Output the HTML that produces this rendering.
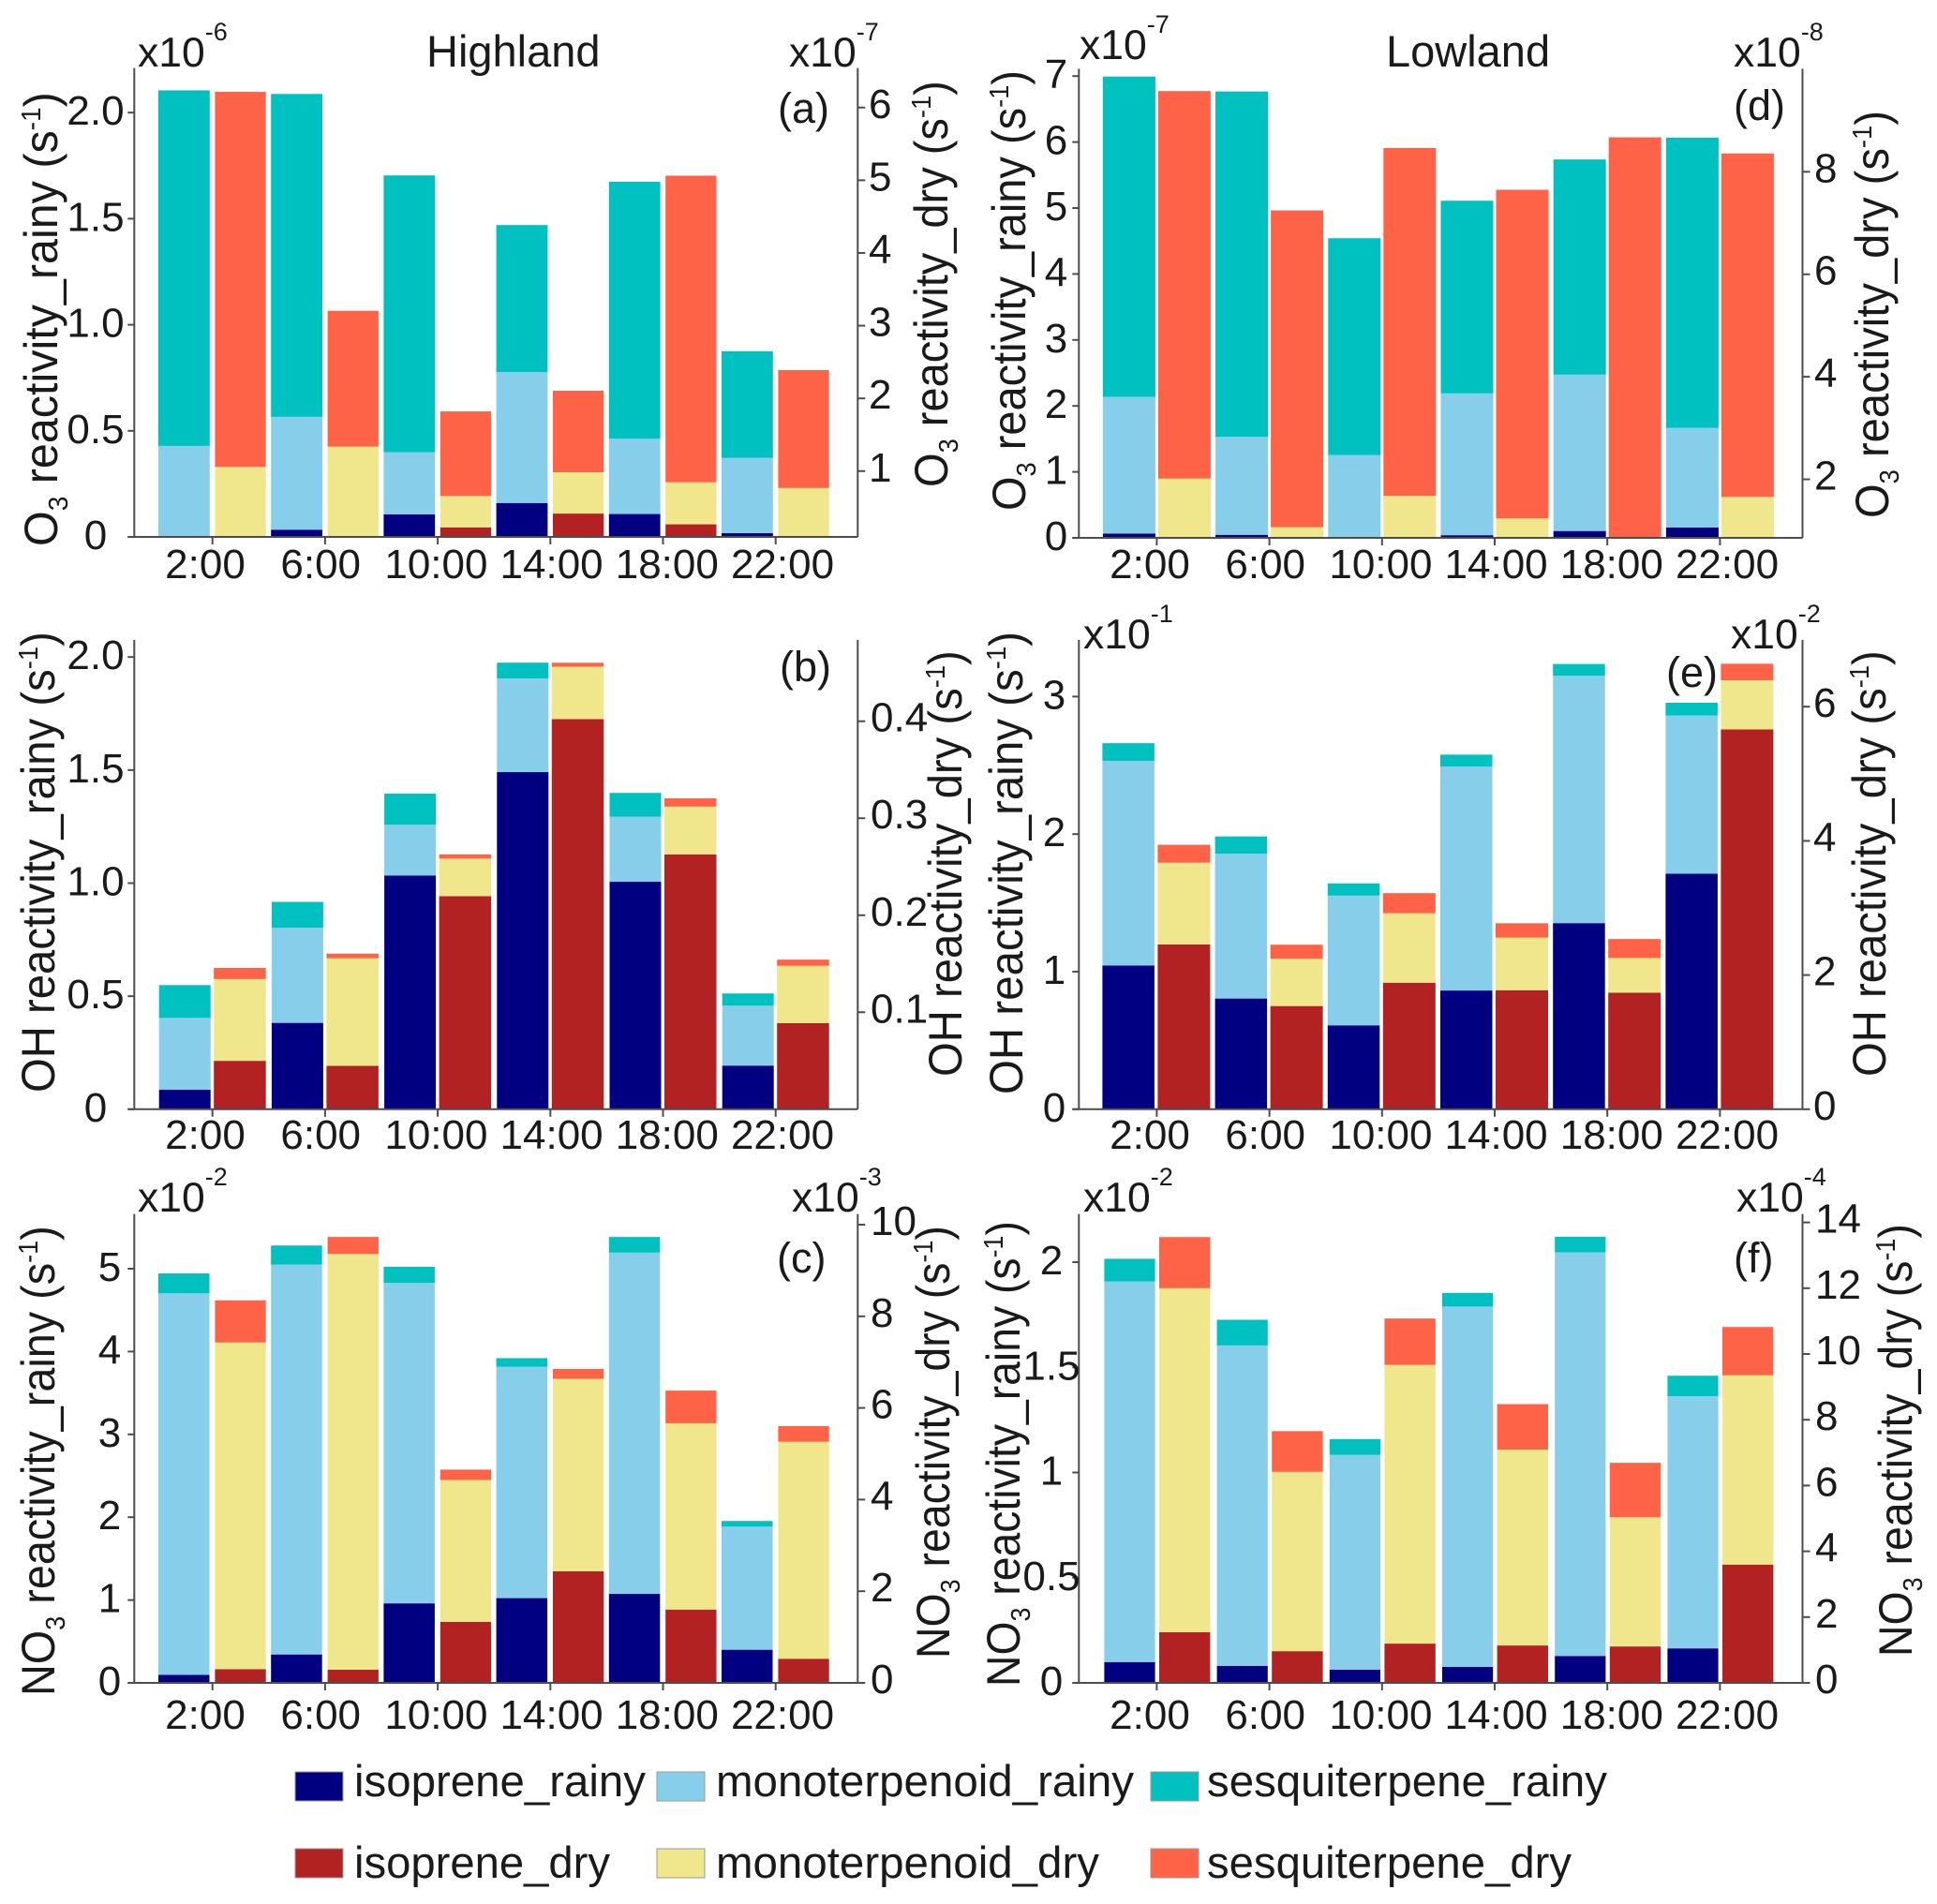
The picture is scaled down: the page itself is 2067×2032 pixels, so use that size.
<!DOCTYPE html>
<html lang="en">
<head>
<meta charset="utf-8">
<title>Reactivity by hour: Highland and Lowland</title>
<style>
html,body{margin:0;padding:0;background:#fff;}
svg{display:block;}
text{font-family:"Liberation Sans",sans-serif;fill:#1a1a1a;white-space:pre;}
</style>
</head>
<body>
<svg id="figure" xmlns="http://www.w3.org/2000/svg" width="2067" height="2032" viewBox="0 0 2067 2032">
<rect x="0" y="0" width="2067" height="2032" fill="#ffffff"/>
<text x="455" y="71" font-size="47">Highland</text>
<text x="1479" y="71" font-size="47">Lowland</text>
</svg>
<script>
// Categories
const hours = ['2:00','6:00','10:00','14:00','18:00','22:00'];

// Panel (a) O3 Highland
const aRainyIso = [0,0.034,0.106,0.16,0.108,0.018];
const aRainyMono = [0.429,0.532,0.293,0.617,0.355,0.355];
const aRainySesq = [1.676,1.522,1.305,0.693,1.211,0.502];
const aDryIso = [0,0,0.131,0.321,0.173,0];
const aDryMono = [0.963,1.242,0.432,0.568,0.579,0.673];
const aDrySesq = [5.158,1.868,1.163,1.121,4.216,1.621];
const aLeftTicks = [0,0.5,1,1.5,2];
const aLeftLabels = ['0','0.5','1.0','1.5','2.0'];
const aRightTicks = [1,2,3,4,5,6];
const aRightLabels = ['1','2','3','4','5','6'];

// Panel (b) OH Highland
const bRainyIso = [0.086,0.382,1.034,1.491,1.006,0.193];
const bRainyMono = [0.318,0.421,0.225,0.414,0.288,0.265];
const bRainySesq = [0.145,0.114,0.137,0.07,0.105,0.054];
const bDryIso = [0.0499,0.0447,0.2196,0.4022,0.2628,0.0887];
const bDryMono = [0.0843,0.1109,0.0388,0.054,0.0492,0.0592];
const bDrySesq = [0.0115,0.0048,0.0044,0.0041,0.0085,0.0063];
const bLeftTicks = [0,0.5,1,1.5,2];
const bLeftLabels = ['0','0.5','1.0','1.5','2.0'];
const bRightTicks = [0.1,0.2,0.3,0.4];
const bRightLabels = ['0.1','0.2','0.3','0.4'];

// Panel (c) NO3 Highland
const cRainyIso = [0.097,0.343,0.96,1.023,1.074,0.4];
const cRainyMono = [4.606,4.708,3.869,2.794,4.12,1.486];
const cRainySesq = [0.24,0.229,0.194,0.103,0.189,0.068];
const cDryIso = [0.299,0.289,1.331,2.435,1.6,0.526];
const cDryMono = [7.131,9.071,3.096,4.201,4.066,4.737];
const cDrySesq = [0.919,0.372,0.227,0.216,0.712,0.341];
const cLeftTicks = [0,1,2,3,4,5];
const cLeftLabels = ['0','1','2','3','4','5'];
const cRightTicks = [0,2,4,6,8,10];
const cRightLabels = ['0','2','4','6','8','10'];

// Panel (d) O3 Lowland
const dRainyIso = [0.064,0.046,0.01,0.04,0.104,0.156];
const dRainyMono = [2.074,1.484,1.247,2.15,2.37,1.513];
const dRainySesq = [4.855,5.237,3.285,2.92,3.262,4.397];
const dDryIso = [0,0,0,0,0,0];
const dDryMono = [1.157,0.209,0.821,0.381,0,0.799];
const dDrySesq = [7.56,6.179,6.784,6.41,7.814,6.701];
const dLeftTicks = [0,1,2,3,4,5,6,7];
const dLeftLabels = ['0','1','2','3','4','5','6','7'];
const dRightTicks = [2,4,6,8];
const dRightLabels = ['2','4','6','8'];

// Panel (e) OH Lowland
const eRainyIso = [1.045,0.805,0.61,0.863,1.353,1.712];
const eRainyMono = [1.488,1.053,0.943,1.629,1.798,1.15];
const eRainySesq = [0.128,0.125,0.089,0.086,0.086,0.093];
const eDryIso = [2.457,1.538,1.886,1.774,1.736,5.662];
const eDryMono = [1.218,0.706,1.036,0.785,0.518,0.732];
const eDrySesq = [0.267,0.208,0.299,0.213,0.283,0.246];
const eLeftTicks = [0,1,2,3];
const eLeftLabels = ['0','1','2','3'];
const eRightTicks = [0,2,4,6];
const eRightLabels = ['0','2','4','6'];

// Panel (f) NO3 Lowland
const fRainyIso = [0.099,0.081,0.063,0.076,0.128,0.164];
const fRainyMono = [1.809,1.523,1.021,1.713,1.919,1.199];
const fRainySesq = [0.108,0.122,0.075,0.065,0.074,0.097];
const fDryIso = [1.54,0.964,1.194,1.137,1.108,3.597];
const fDryMono = [10.46,5.453,8.475,5.957,3.928,5.756];
const fDrySesq = [1.554,1.238,1.41,1.381,1.655,1.467];
const fLeftTicks = [0,0.5,1,1.5,2];
const fLeftLabels = ['0','0.5','1','1.5','2'];
const fRightTicks = [0,2,4,6,8,10,12,14];
const fRightLabels = ['0','2','4','6','8','10','12','14'];

const seriesColors = {rainyIso:'#000080',rainyMono:'#87ceeb',rainySesq:'#00c0c0',dryIso:'#b22222',dryMono:'#f0e68c',drySesq:'#ff6347'};
const AXIS = '#4d4d4d';
const svg = document.getElementById('figure');
const NS = 'http://www.w3.org/2000/svg';

function make(tag, parent, attrs){
  const n = document.createElementNS(NS, tag);
  for (const k in attrs) n.setAttribute(k, attrs[k]);
  parent.appendChild(n);
  return n;
}
function rich(parent, parts, size, subSize, attrs){
  const t = make('text', parent, attrs);
  t.setAttribute('font-size', size);
  let shift = 0;
  parts.forEach(function(p){
    const s = make('tspan', t, {});
    s.textContent = p[0];
    let target = 0;
    if (p[1] === 'sub') target = 11;
    if (p[1] === 'sup') target = -18;
    if (p[1] === 'top') target = -28;
    if (target !== 0) s.setAttribute('font-size', subSize);
    s.setAttribute('dy', target - shift);
    shift = target;
  });
  return t;
}
function line(parent, x1, y1, x2, y2){
  return make('line', parent, {x1:x1,y1:y1,x2:x2,y2:y2,stroke:AXIS,'stroke-width':2});
}

function drawPanel(cfg){
  const g = make('g', svg, {});
  
  

  const tickX = function(i){ return cfg.tick0 + i * 120.2; };
  const yLeft = function(v){ return cfg.base - v * cfg.leftK; };
  const yRight = function(v){ return cfg.base - (v - cfg.rightMin) * cfg.rightK; };

  function stack(values, colors, names, x0, x1, scale, start, season, hour){
    let sum = start;
    values.forEach(function(v, idx){
      const yTop = scale(sum + v);
      const yBot = scale(sum);
      const r = make('rect', g, {x:x0,y:yTop,width:x1 - x0,height:Math.max(0,yBot - yTop),fill:colors[idx]});
      
      
      sum += v;
    });
  }
  hours.forEach(function(h, i){
    const tx = tickX(i);
    const hour = h.replace(':00','h');
    stack([cfg.rainy[0][i],cfg.rainy[1][i],cfg.rainy[2][i]],
      [seriesColors.rainyIso,seriesColors.rainyMono,seriesColors.rainySesq],
      ['isoprene','monoterpenoid','sesquiterpene'], tx + cfg.rb[0], tx + cfg.rb[1], yLeft, 0, 'rainy', hour);
    stack([cfg.dry[0][i],cfg.dry[1][i],cfg.dry[2][i]],
      [seriesColors.dryIso,seriesColors.dryMono,seriesColors.drySesq],
      ['isoprene','monoterpenoid','sesquiterpene'], tx + cfg.db[0], tx + cfg.db[1], yRight, cfg.rightMin, 'dry', hour);
  });

  const xAxis = line(g, cfg.axisL - 7, cfg.base, cfg.axisR, cfg.base);
  
  
  const leftAxis = line(g, cfg.axisL, cfg.top, cfg.axisL, cfg.base);
  
  
  const rightAxis = line(g, cfg.axisR, cfg.top, cfg.axisR, cfg.base);
  
  

  hours.forEach(function(h, i){
    const tk = line(g, tickX(i), cfg.base, tickX(i), cfg.base + 8);
    
    
    const lb = make('text', g, {x:cfg.label0 + i * 123.2,y:cfg.labelY,'font-size':44,'text-anchor':'middle'});
    lb.textContent = h;
    
    
  });
  cfg.leftTicks.forEach(function(v, i){
    const y = yLeft(v);
    const tk = line(g, cfg.axisL - 7, y, cfg.axisL, y);
    
    
    const lb = make('text', g, {x:cfg.leftLabelX,y:y + 13,'font-size':44,'text-anchor':'middle'});
    lb.textContent = cfg.leftLabels[i];
    
    
  });
  cfg.rightTicks.forEach(function(v, i){
    const y = yRight(v);
    const tk = line(g, cfg.axisR, y, cfg.axisR + 8, y);
    
    
    const lb = make('text', g, {x:cfg.rightLabelX,y:y + 11,'font-size':44});
    lb.textContent = cfg.rightLabels[i];
    
    
  });

  function yTitle(species, sub, name, suffix, spec){
    const parts = [[species,0]];
    if (sub) parts.push([sub,'sub']);
    parts.push([' reactivity_' + name + ' (s',0]);
    parts.push(['-1','sup']);
    parts.push([')',0]);
    const t = rich(g, parts, 50, 29, {x:0,y:0});
    const sx = (spec[1] - spec[2]) / t.getComputedTextLength();
    t.setAttribute('transform', 'translate(' + spec[0] + ',' + spec[1] + ') rotate(-90) scale(' + sx + ',1)');
    
    
  }
  yTitle(cfg.species, cfg.sub, 'rainy', 'left', cfg.leftTitle);
  yTitle(cfg.species, cfg.sub, 'dry', 'right', cfg.rightTitle);

  if (cfg.multLeft){
    const m = rich(g, [['x10',0],[cfg.multLeft[2],'top']], 44.5, 27, {x:cfg.multLeft[0],y:cfg.multLeft[1]});
    
    
  }
  if (cfg.multRight){
    const m = rich(g, [['x10',0],[cfg.multRight[2],'top']], 44.5, 27, {x:cfg.multRight[0],y:cfg.multRight[1]});
    
    
  }
  const tag = make('text', g, {x:cfg.tag[0],y:cfg.tag[1],'font-size':45});
  tag.textContent = '(' + cfg.id + ')';
  
  
}

drawPanel({id:'a',species:'O',sub:'3',axisL:143.3,axisR:915.3,top:72.6,base:573,leftK:226.4,rightK:77.6,rightMin:0.095,
  tick0:226.7,rb:[-57.7,-2.9],db:[2.7,57],label0:219,labelY:617,leftLabelX:102,rightLabelX:927,
  rainy:[aRainyIso,aRainyMono,aRainySesq],dry:[aDryIso,aDryMono,aDrySesq],
  leftTicks:aLeftTicks,leftLabels:aLeftLabels,rightTicks:aRightTicks,rightLabels:aRightLabels,
  leftTitle:[61,583,98],rightTitle:[1011,520,86],multLeft:[147,71,'-6'],multRight:[842,71,'-7'],tag:[830,131]});
drawPanel({id:'b',species:'OH',sub:'',axisL:143.3,axisR:915.3,top:682.9,base:1183.8,leftK:241.3,rightK:1035.2,rightMin:0,
  tick0:226.7,rb:[-57,-2],db:[1.5,57],label0:219,labelY:1226,leftLabelX:102,rightLabelX:929,
  rainy:[bRainyIso,bRainyMono,bRainySesq],dry:[bDryIso,bDryMono,bDrySesq],
  leftTicks:bLeftTicks,leftLabels:bLeftLabels,rightTicks:bRightTicks,rightLabels:bRightLabels,
  leftTitle:[58,1166,674],rightTitle:[1026,1149,694],multLeft:null,multRight:null,tag:[832,727]});
drawPanel({id:'c',species:'NO',sub:'3',axisL:143.3,axisR:915.3,top:1295.6,base:1796,leftK:88.4,rightK:48.9,rightMin:0,
  tick0:226.7,rb:[-57.7,-3.2],db:[2.7,57],label0:219,labelY:1845,leftLabelX:117,rightLabelX:929,
  rainy:[cRainyIso,cRainyMono,cRainySesq],dry:[cDryIso,cDryMono,cDrySesq],
  leftTicks:cLeftTicks,leftLabels:cLeftLabels,rightTicks:cRightTicks,rightLabels:cRightLabels,
  leftTitle:[58,1810,1308],rightTitle:[1013,1770,1308],multLeft:[147,1293,'-2'],multRight:[845,1293,'-3'],tag:[829,1358]});
drawPanel({id:'d',species:'O',sub:'3',axisL:1151.3,axisR:1923.5,top:73.4,base:574,leftK:70.4,rightK:54.7,rightMin:0.858,
  tick0:1234.4,rb:[-57.5,-1.5],db:[1.5,57.5],label0:1227,labelY:617,leftLabelX:1127,rightLabelX:1936,
  rainy:[dRainyIso,dRainyMono,dRainySesq],dry:[dDryIso,dDryMono,dDrySesq],
  leftTicks:dLeftTicks,leftLabels:dLeftLabels,rightTicks:dRightTicks,rightLabels:dRightLabels,
  leftTitle:[1094,545,75],rightTitle:[2015,553,118],multLeft:[1152,63,'-7'],multRight:[1850,71,'-8'],tag:[1850,128]});
drawPanel({id:'e',species:'OH',sub:'',axisL:1151.3,axisR:1923.5,top:682.9,base:1183.8,leftK:146.8,rightK:71.6,rightMin:0,
  tick0:1234.4,rb:[-58,-2.5],db:[1,57],label0:1227,labelY:1226,leftLabelX:1125,rightLabelX:1935,
  rainy:[eRainyIso,eRainyMono,eRainySesq],dry:[eDryIso,eDryMono,eDrySesq],
  leftTicks:eLeftTicks,leftLabels:eLeftLabels,rightTicks:eRightTicks,rightLabels:eRightLabels,
  leftTitle:[1091,1168,674],rightTitle:[2012,1149,694],multLeft:[1156,692,'-1'],multRight:[1847,692,'-2'],tag:[1778,733]});
drawPanel({id:'f',species:'NO',sub:'3',axisL:1151.3,axisR:1923.5,top:1295.6,base:1796,leftK:224.5,rightK:35.1,rightMin:0,
  tick0:1234.4,rb:[-56,-1.8],db:[2.6,57],label0:1227,labelY:1845,leftLabelX:1122,rightLabelX:1937,
  rainy:[fRainyIso,fRainyMono,fRainySesq],dry:[fDryIso,fDryMono,fDrySesq],
  leftTicks:fLeftTicks,leftLabels:fLeftLabels,rightTicks:fRightTicks,rightLabels:fRightLabels,
  leftTitle:[1088,1800,1303],rightTitle:[2040,1768,1306],multLeft:[1156,1293,'-2'],multRight:[1853,1293,'-4'],tag:[1850,1358]});

// Legend
const legendLabels = ['isoprene_rainy','monoterpenoid_rainy','sesquiterpene_rainy','isoprene_dry','monoterpenoid_dry','sesquiterpene_dry'];
const legendKeys = ['rainyIso','rainyMono','rainySesq','dryIso','dryMono','drySesq'];
const legendSwatchX = [315,701,1228,315,701,1228];
const legendSwatchY = [1891,1891,1891,1973,1973,1973];
const legendTextX = [378,764,1288,378,764,1288];
const legendTextY = [1917,1917,1917,2004,2004,2004];
const legendTextW = [311,446,427,273,409,389];
const legend = make('g', svg, {});


legendLabels.forEach(function(label, i){
  const s = make('rect', legend, {x:legendSwatchX[i],y:legendSwatchY[i],width:51,height:31,fill:seriesColors[legendKeys[i]],stroke:'#9a9a9a','stroke-width':1});
  
  
  const t = make('text', legend, {x:legendTextX[i],y:legendTextY[i],'font-size':47,textLength:legendTextW[i],lengthAdjust:'spacingAndGlyphs'});
  t.textContent = label;
  
  
});
</script>
</body>
</html>
